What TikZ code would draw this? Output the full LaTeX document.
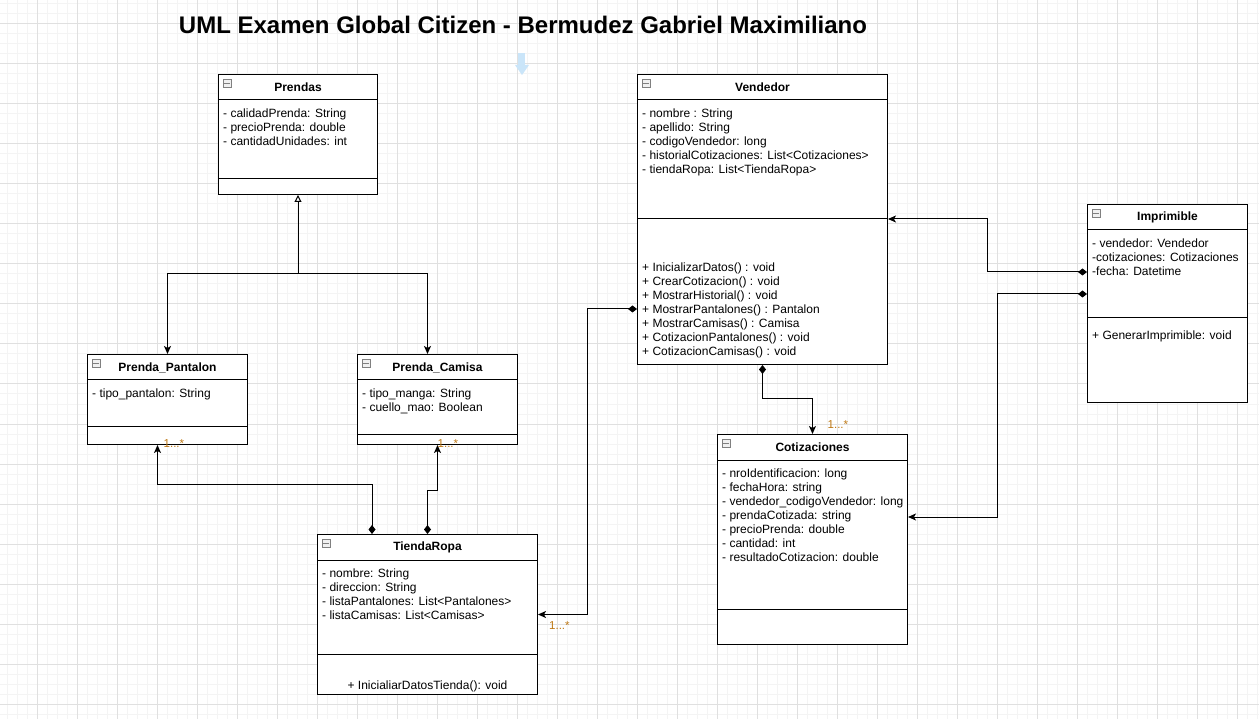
\documentclass[tikz,border=0pt]{standalone}
\usepackage{fontspec}
\setmainfont{Liberation Sans}
\usetikzlibrary{arrows.meta,calc}
\definecolor{gridmaj}{RGB}{224,224,224}
\definecolor{gridmin}{RGB}{244,244,244}
\definecolor{multcol}{RGB}{190,120,20}
\definecolor{hintblue}{RGB}{202,229,249}

\newcommand{\classbox}[7]{%
  \node[clsbox, minimum width=#4pt, minimum height=#5pt, anchor=north west] (#1) at (#2,#3) {};
  \draw[clsline] ($(#1.north west)+(0,26)$) -- ($(#1.north east)+(0,26)$);
  \draw[clsline] ($(#1.north west)+(0,#6)$) -- ($(#1.north east)+(0,#6)$);
  \node[clsicon] (#1-icon) at ($(#1.north west)+(9,9)$) {};
  \draw[gray, line width=0.7pt] ($(#1-icon.west)+(1.8,0)$) -- ($(#1-icon.east)+(-1.8,0)$);
  \node[clstitle] (#1-title) at ($(#1.north)+(0,13.5)$) {#7};
}
\newcommand{\classlines}[4]{%
  \foreach \txt [count=\i] in {#4}
    \node[clstext] (#1\i) at (#2,{#3+14*(\i-1)}) {\txt};
}

\begin{document}
\begin{tikzpicture}[x=1pt,y=-1pt,
  clsbox/.style={draw, line width=1pt, fill=white, inner sep=0pt},
  clsline/.style={line width=1pt},
  clsicon/.style={draw=gray, fill=gray!12, line width=0.7pt, minimum size=8pt, inner sep=0pt},
  clstitle/.style={font=\fontsize{12}{14}\selectfont\bfseries, inner sep=0pt},
  clstext/.style={font=\fontsize{12}{14}\selectfont, inner sep=0pt, anchor=base west},
  multlbl/.style={font=\fontsize{11.5}{13}\selectfont, text=multcol, inner sep=0pt, anchor=west},
  gen/.style={line width=1pt, {Stealth[length=8pt,width=7pt,inset=2pt]}-{Triangle[open,length=7pt,width=7pt,fill=white]}},
  assoc/.style={line width=1pt, -{Stealth[length=8pt,width=7pt,inset=2pt]}},
  comp/.style={line width=1pt, {Diamond[length=9pt,width=7pt]}-{Stealth[length=8pt,width=7pt,inset=2pt]}}]
\useasboundingbox (0,0) rectangle (1259,719);
\fill[white] (0,0) rectangle (1259,719);
\foreach \gx in {7,17,...,1257} \draw[gridmin, line width=1pt] (\gx,0) -- (\gx,719);
\foreach \gy in {4,14,...,714} \draw[gridmin, line width=1pt] (0,\gy) -- (1259,\gy);
\foreach \gx in {37,77,...,1237} \draw[gridmaj, line width=1pt] (\gx,0) -- (\gx,719);
\foreach \gy in {24,64,...,704} \draw[gridmaj, line width=1pt] (0,\gy) -- (1259,\gy);

\node[font=\fontsize{24}{28}\selectfont\bfseries, inner sep=0pt] (title) at (523,25) {UML Examen Global Citizen - Bermudez Gabriel Maximiliano};
\fill[hintblue] (518,53) rectangle (525,66);
\fill[hintblue] (515,65) -- (529,65) -- (522,75) -- cycle;

\classbox{prendas}{218}{74}{159}{120}{105}{Prendas}
\classlines{prendasA}{223}{117.5}{- calidadPrenda: String, - precioPrenda: double, - cantidadUnidades: int}

\classbox{pantalon}{87}{354}{160}{90}{72}{Prenda\_Pantalon}
\classlines{pantalonA}{92}{397.5}{- tipo\_pantalon: String}

\classbox{camisa}{357}{354}{160}{90}{80}{Prenda\_Camisa}
\classlines{camisaA}{362}{397.5}{- tipo\_manga: String, - cuello\_mao: Boolean}

\classbox{vendedor}{637}{74}{250}{290}{145}{Vendedor}
\classlines{vendedorA}{642}{117.5}{- nombre : String, - apellido: String, - codigoVendedor: long, - historialCotizaciones: List<Cotizaciones>, - tiendaRopa: List<TiendaRopa>}
\classlines{vendedorM}{642}{271.5}{+ InicializarDatos() : void, + CrearCotizacion() : void, + MostrarHistorial() : void, + MostrarPantalones() : Pantalon, + MostrarCamisas() : Camisa, + CotizacionPantalones() : void, + CotizacionCamisas() : void}

\classbox{imprimible}{1087}{204}{160}{198}{114}{Imprimible}
\classlines{imprimibleA}{1092}{247.5}{- vendedor: Vendedor, -cotizaciones: Cotizaciones, -fecha: Datetime}
\classlines{imprimibleM}{1092}{339.5}{+ GenerarImprimible: void}

\classbox{cotiz}{717}{434}{190}{210}{175}{Cotizaciones}
\classlines{cotizA}{722}{477.5}{- nroIdentificacion: long, - fechaHora: string, - vendedor\_codigoVendedor: long, - prendaCotizada: string, - precioPrenda: double, - cantidad: int, - resultadoCotizacion: double}

\classbox{tienda}{317}{534}{220}{160}{120}{TiendaRopa}
\classlines{tiendaA}{322}{577.5}{- nombre: String, - direccion: String, - listaPantalones: List<Pantalones>, - listaCamisas: List<Camisas>}
\node[clstitle, font=\fontsize{12}{14}\selectfont] (tiendaM1) at ($(tienda.south)+(0,-9)$) {+ InicialiarDatosTienda(): void};

\coordinate (inhj) at ($(prendas.south)+(0,79)$);
\draw[gen] (pantalon.north) |- (inhj) -- (prendas.south);
\draw[assoc] (inhj) -| ($(camisa.north)+(-10,0)$);

\draw[comp] ($(tienda.north west)+(55,0)$) -- ++(0,-50) -| ($(pantalon.south)+(-10,0)$);
\draw[comp] (tienda.north) -- ++(0,-44) -| (camisa.south);
\draw[comp] ($(vendedor.north west)+(0,235)$) -- ++(-50,0) |- (tienda.east);
\draw[comp] (vendedor.south) -- ++(0,34) -| (cotiz.north);
\draw[comp] ($(imprimible.north west)+(0,68)$) -- ++(-100,0) |- ($(vendedor.north east)+(0,145)$);
\draw[comp] ($(imprimible.north west)+(0,90)$) -- ++(-90,0) |- ($(cotiz.north east)+(0,83)$);

\node[multlbl] (multPant) at ($(pantalon.south)+(-4,-1)$) {1...*};
\node[multlbl] (multCam) at ($(camisa.south)+(0,-1)$) {1...*};
\node[multlbl] (multTienda) at ($(tienda.east)+(11,11)$) {1...*};
\node[multlbl] (multCotiz) at ($(cotiz.north)+(15,-9)$) {1...*};
\end{tikzpicture}
\end{document}
